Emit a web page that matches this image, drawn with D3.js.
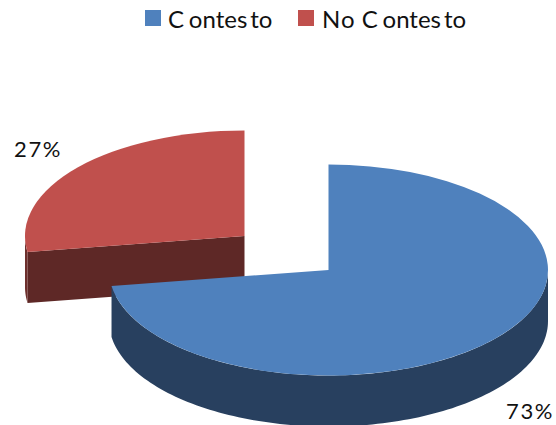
<!DOCTYPE html>
<html>
<head>
<meta charset="utf-8">
<script src="https://cdnjs.cloudflare.com/ajax/libs/d3/7.8.5/d3.min.js"></script>
<style>
  html, body { margin: 0; padding: 0; background: #fff; }
  svg { display: block; }
  text { font-family: Lato, "Open Sans", sans-serif; fill: #111; }
</style>
</head>
<body>
<svg id="chart" width="556" height="425"></svg>
<script>
// Survey answers, share of responses in percent
const categories = ["Contesto", "No Contesto"];
const shares = [73, 27];
const shareLabels = ["73%", "27%"];
const topColors = ["#4F81BD", "#C0504D"];
const sideColors = ["#28405F", "#5E2826"];

const svg = d3.select("#chart");
const rx = 219.5, ry = 105.5, depth = 51;
// The red slice is pulled out of the pie toward the upper left
const centers = [{ x: 328.5, y: 270 }, { x: 244.5, y: 236 }];

const slices = d3.pie().sort(null).value(d => d)(shares);

// Tilting the pie foreshortens angles slightly away from the axes
const tilt = a => a - 0.105 * Math.sin(2 * a);

// Ellipse point for a pie angle measured clockwise from twelve o'clock
const onRim = (c, a, dy = 0) => [c.x + rx * Math.sin(a), c.y - ry * Math.cos(a) + dy];

function rimPoints(c, from, to, dy) {
  return d3.range(0, 121).map(i => onRim(c, from + (to - from) * i / 120, dy));
}

const line = d3.line();
const arc = d3.arc().innerRadius(0).outerRadius(rx);

// Draw order: back slice first, so the front slice covers its wall
[1, 0].forEach(i => {
  const s = slices[i], c = centers[i];
  const g = svg.append("g");
  const start = tilt(s.startAngle), stop = tilt(s.endAngle);

  // Cut face along the slice's first radius, when it faces the viewer
  if (i === 1) {
    g.append("path")
      .attr("fill", sideColors[i])
      .attr("d", line([[c.x, c.y], onRim(c, start), onRim(c, start, depth), [c.x, c.y + depth]]) + "Z");
    // Wall around the left end of the rim, up to the leftmost point
    const end = 3 * Math.PI / 2;
    g.append("path")
      .attr("fill", "#6E302D")
      .attr("d", line(rimPoints(c, start, end, 0).concat(rimPoints(c, end, start, depth))) + "Z");
  } else {
    // Outer wall on the visible front half of the rim
    const from = Math.PI / 2;
    g.append("path")
      .attr("fill", sideColors[i])
      .attr("d", line(rimPoints(c, from, stop, 0).concat(rimPoints(c, stop, from, depth))) + "Z");
  }

  // Top surface: a flat pie arc squashed into an ellipse
  g.append("path")
    .attr("fill", topColors[i])
    .attr("transform", `translate(${c.x},${c.y}) scale(1,${ry / rx})`)
    .attr("d", arc({ startAngle: start, endAngle: stop }));
});

// Percentage labels
const labelPositions = [{ x: 530, y: 419 }, { x: 38, y: 157 }];
svg.selectAll("text.share").data(shareLabels).join("text")
  .attr("class", "share")
  .attr("x", (d, i) => labelPositions[i].x)
  .attr("y", (d, i) => labelPositions[i].y)
  .attr("text-anchor", "middle")
  .attr("font-size", 22)
  .attr("letter-spacing", 1.6)
  .text(d => d);

// Legend; the dx lists reproduce the loose spacing between glyphs
const legendItems = [
  { sx: 145, tx: 168, dx: "0 5 0 0 0 0 3 0" },
  { sx: 298, tx: 322, dx: "0 1 1 0 5 0 0 0 0 3 0" }
];
categories.forEach((name, i) => {
  svg.append("rect")
    .attr("x", legendItems[i].sx).attr("y", 10)
    .attr("width", 16).attr("height", 16)
    .attr("fill", topColors[i]);
  svg.append("text")
    .attr("x", legendItems[i].tx).attr("y", 28)
    .attr("font-size", 24)
    .attr("dx", legendItems[i].dx)
    .text(name);
});
</script>
</body>
</html>
